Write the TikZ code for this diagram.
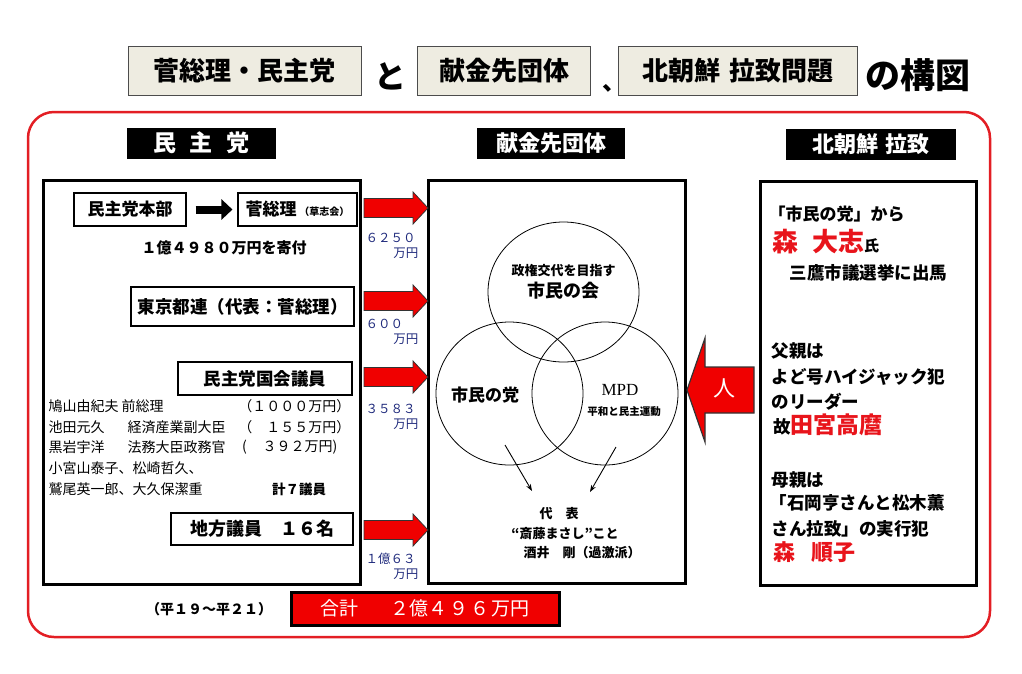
\documentclass[tikz,border=0pt]{standalone}
\usepackage{fontspec}
\setmainfont{Noto Sans CJK JP}
\newfontfamily\mpdfont{Liberation Serif}
\usetikzlibrary{arrows.meta,positioning,shapes.geometric}
\definecolor{frame}{HTML}{E31E24}
\definecolor{beige}{HTML}{EEECE1}
\definecolor{navy}{HTML}{1F2A7C}
\definecolor{arrred}{HTML}{F00000}
\definecolor{txtred}{HTML}{E8141B}
\tikzset{
  fs/.style={font=\fontsize{#1}{#1}\selectfont\bfseries},
  fr/.style={font=\fontsize{#1}{#1}\selectfont},
  titlebox/.style={draw=black!70,fill=beige,line width=1,inner sep=0,fs=26},
  hdr/.style={fill=black,text=white,inner sep=0,minimum height=31,fs=23},
  panel/.style={draw=black,line width=3,inner sep=0},
  sbox/.style={draw=black,line width=1.1,fill=white,inner sep=0},
  amt/.style={text=navy,fr=12.5},
  redarr/.style={fill=arrred,draw=black!80,line width=0.8},
  venn/.style={ellipse,draw,line width=0.8,inner sep=0},
  thinarr/.style={-{Stealth[length=7pt,width=5pt]},line width=0.9},
}

\begin{document}
\begin{tikzpicture}[x=1pt,y=-1pt]
\useasboundingbox (0,0) rectangle (1022,673);

% title line
\node[titlebox,minimum width=233,minimum height=49] (t1) at (244.5,70.5) {菅総理・民主党};
\node[fs=32] (t2) at (390,76) {と};
\node[titlebox,minimum width=173,minimum height=49] (t3) at (504,70.5) {献金先団体};
\node[fs=24] (t4) at (614,88) {、};
\node[titlebox,minimum width=239,minimum height=49] (t5) at (738,70.5) {北朝鮮\hspace{10pt}拉致問題};
\node[fs=35,anchor=west] (t6) at (862,75) {の構図};

\draw[frame,line width=2.5,rounded corners=26] (28,112) rectangle (990,637);

% headers
\node[hdr,minimum width=149] (hminshu) at (201.5,143) {民\hspace{14pt}主\hspace{14pt}党};
\node[hdr,minimum width=148,fs=22] (hkenkin) at (551,143.5) {献金先団体};
\node[hdr,minimum width=170,fs=22] (hkita) at (871,144) {北朝鮮\hspace{8pt}拉致};

% panels
\node[panel,minimum width=317,minimum height=404] (lbox) at (201.5,382) {};
\node[panel,minimum width=257,minimum height=403] (mbox) at (556.5,381.5) {};
\node[panel,minimum width=216,minimum height=404] (rbox) at (868,383) {};

% left panel
\node[sbox,minimum width=112,minimum height=33,fs=17] (honbu) at (130,209.5) {民主党本部};
\node[sbox,minimum width=119,minimum height=33,fs=17] (kan) at (297.5,209.5) {菅総理\,{\fontsize{10}{10}\selectfont（草志会）}};
\draw[-{Triangle[length=11pt,width=20pt]},line width=8,shorten <=9,shorten >=5] (honbu) -- (kan);
\node[fs=15] (kifu) at (224,248) {１億４９８０万円を寄付};
\node[sbox,minimum width=223,minimum height=39,fs=17.5] (toren) at (242.5,306.5) {東京都連（代表：菅総理）};
\node[sbox,minimum width=174,minimum height=33,fs=17.5] (kokkai) at (265,378.5) {民主党国会議員};

\node[fr=14,anchor=west] (m1) at (45,406) {鳩山由紀夫 前総理};
\node[fr=14,anchor=east] (m1v) at (354,406) {（１０００万円）};
\node[fr=14,anchor=west] (m2) at (45,427) {池田元久};
\node[fr=14,anchor=west] (m2p) at (124,427) {経済産業副大臣};
\node[fr=14,anchor=east] (m2v) at (354,427) {（　１５５万円）};
\node[fr=14,anchor=west] (m3) at (45,447) {黒岩宇洋};
\node[fr=14,anchor=west] (m3p) at (124,447) {法務大臣政務官};
\node[fr=14,anchor=east] (m3v) at (341,447) {(\hspace{16pt}３９２万円)};
\node[fr=14,anchor=west] (m4) at (45,468) {小宮山泰子、松崎哲久、};
\node[fr=14,anchor=west] (m5) at (45,489) {鷲尾英一郎、大久保潔重};
\node[fs=13.5] (m5v) at (299,489) {計７議員};
\node[sbox,minimum width=182,minimum height=32,fs=18] (chiho) at (262,529) {地方議員　１６名};

% red arrows and amounts
\foreach \y in {208,301,377,530}
  \draw[redarr] (364,{\y-9.5}) -- (413,{\y-9.5}) -- (413,{\y-16}) -- (428,\y)
    -- (413,{\y+16}) -- (413,{\y+9.5}) -- (364,{\y+9.5}) -- cycle;
\foreach \v/\y [count=\i] in {６２５０/238,６００/324,３５８３/409,１億６３/559} {
  \node[amt,anchor=west] (amt\i) at (362,\y) {\v};
  \node[amt,anchor=east] (yen\i) at (422,{\y+15}) {万円};
}

% middle panel
\node[venn,minimum width=151,minimum height=140] (kai) at (563.5,292) {};
\node[venn,minimum width=147,minimum height=143] (tou) at (509.5,393.5) {};
\node[venn,minimum width=146,minimum height=143] (mpd) at (605,393.5) {};
\node[fs=13] (kai1) at (563.5,271) {政権交代を目指す};
\node[fs=18] (kai2) at (563.5,291) {市民の会};
\node[fs=17] (tou1) at (485,395) {市民の党};
\node[font=\fontsize{17}{17}\selectfont\mpdfont] (mpd1) at (620,390) {MPD};
\node[fs=10.5] (mpd2) at (624,412) {平和と民主運動};
\node[fs=13] (daihyo) at (559,514) {代　表};
\node[fs=13] (saito) at (565,534) {“斎藤まさし”こと};
\node[fs=13] (sakai) at (582,553) {酒井　剛（過激派）};
\coordinate (s1) at (505,445);
\coordinate (e1) at (532,491);
\coordinate (s2) at (616,447);
\coordinate (e2) at (590,492);
\draw[thinarr] (s1) -- (e1);
\draw[thinarr] (s2) -- (e2);

% right panel
\node[fs=17,anchor=west] (r1) at (765,214) {「市民の党」から};
\node[anchor=base west,inner sep=0] (r2) at (772,251) {{\color{txtred}\fontsize{26}{26}\selectfont\bfseries 森\hspace{14pt}大志}{\fontsize{15}{15}\selectfont\bfseries 氏}};
\node[fs=17.5,anchor=west] (r3) at (786,273) {三鷹市議選挙に出馬};
\node[fs=17.5,anchor=west] (r4) at (768,351) {父親は};
\node[fs=17.5,anchor=west] (r5) at (768,377) {よど号ハイジャック犯};
\node[fs=17.5,anchor=west] (r6) at (768,402) {のリーダー};
\node[anchor=base west,inner sep=0] (r7) at (773,433) {{\fontsize{17.5}{17.5}\selectfont\bfseries 故}{\color{txtred}\fontsize{23}{23}\selectfont\bfseries 田宮高麿}};
\node[fs=17.5,anchor=west] (r8) at (768,480) {母親は};
\node[fs=17.5,anchor=west] (r9) at (766,503) {「石岡亨さんと松木薫};
\node[fs=17.5,anchor=west] (r10) at (768,529) {さん拉致」の実行犯};
\node[anchor=base west,inner sep=0,text=txtred] (r11) at (773,560) {{\fontsize{22}{22}\selectfont\bfseries 森\hspace{16pt}順子}};

% people arrow
\draw[redarr,line width=1.2] (687,390) -- (705,338) -- (705,367) -- (754,367)
  -- (754,413) -- (705,413) -- (705,442) -- cycle;
\node[fr=22,text=white] (hito) at (724,388) {人};

% bottom
\node[fs=14] (period) at (209,609) {（平１９～平２１）};
\node[fill=arrred,draw=black,line width=3,minimum width=268,minimum height=33,text=white,fr=19] (gokei) at (425,608.5)
  {合計\hspace{32pt}２億４\hspace{2pt}９\hspace{2pt}６\hspace{2pt}万円};
\end{tikzpicture}
\end{document}
